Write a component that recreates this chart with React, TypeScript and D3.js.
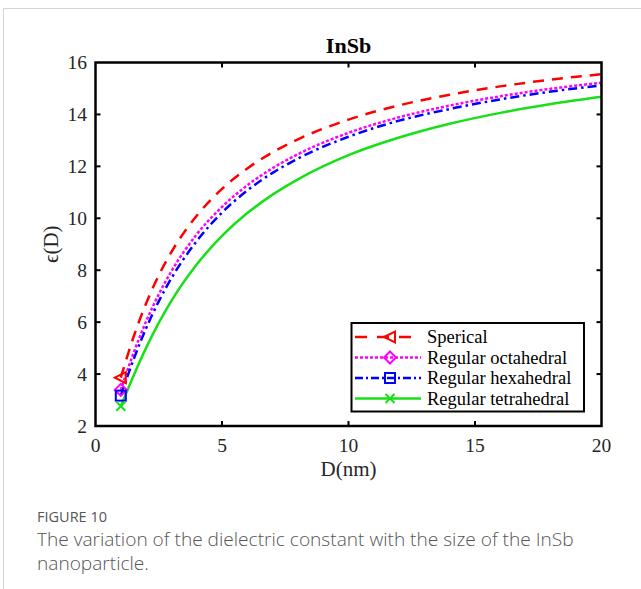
import React from "react";
import * as d3 from "d3";

const diameters = [1, 1.5, 2, 2.5, 3, 4, 5, 6, 7, 8, 10, 12, 14, 16, 18, 20];
const spherical = [3.86, 5.42, 6.72, 7.8, 8.7, 10.1, 11.13, 11.92, 12.54, 13.04, 13.8, 14.35, 14.76, 15.08, 15.34, 15.55];
const octahedral = [3.39, 4.8, 6.03, 7.07, 7.96, 9.38, 10.44, 11.27, 11.93, 12.47, 13.29, 13.89, 14.34, 14.7, 14.99, 15.22];
const hexahedral = [3.17, 4.55, 5.76, 6.8, 7.69, 9.12, 10.22, 11.07, 11.75, 12.3, 13.14, 13.76, 14.21, 14.58, 14.88, 15.12];
const tetrahedral = [2.76, 3.93, 5.01, 5.97, 6.82, 8.22, 9.32, 10.2, 10.91, 11.5, 12.43, 13.11, 13.64, 14.06, 14.4, 14.68];
const seriesNames = ["Sperical", "Regular octahedral", "Regular hexahedral", "Regular tetrahedral"];
const xTicks = [0, 5, 10, 15, 20];
const yTicks = [2, 4, 6, 8, 10, 12, 14, 16];

const FONT = "'Liberation Serif', 'Times New Roman', serif";
const SANS = "'Open Sans', 'Noto Sans', sans-serif";

export default function App() {
  const left = 95.5, right = 601.5, top = 62.5, bottom = 426;
  const x = d3.scaleLinear().domain([0, 20]).range([left, right]);
  const y = d3.scaleLinear().domain([2, 16]).range([bottom, top]);

  const series = [
    { name: seriesNames[0], values: spherical, color: "#ff0000", dash: "11,8", marker: "tri" },
    { name: seriesNames[1], values: octahedral, color: "#ff00ff", dash: "3,2", marker: "diamond" },
    { name: seriesNames[2], values: hexahedral, color: "#0000ff", dash: "9,4,2.5,4", marker: "square" },
    { name: seriesNames[3], values: tetrahedral, color: "#17e017", dash: null, marker: "x" },
  ];

  const line = d3
    .line<number>()
    .x((_, i) => x(diameters[i]))
    .y((v) => y(v))
    .curve(d3.curveMonotoneX);

  const marker = (kind: string, cx: number, cy: number, color: string) => {
    const common = { fill: "none", stroke: color, strokeWidth: 2 };
    if (kind === "tri")
      return <path d={`M${cx - 6},${cy} L${cx + 5},${cy - 5.5} L${cx + 5},${cy + 5.5} Z`} {...common} />;
    if (kind === "diamond")
      return <path d={`M${cx},${cy - 6} L${cx + 6},${cy} L${cx},${cy + 6} L${cx - 6},${cy} Z`} {...common} />;
    if (kind === "square") return <rect x={cx - 5} y={cy - 5} width={10} height={10} {...common} />;
    return <path d={`M${cx - 4.5},${cy - 4.5} L${cx + 4.5},${cy + 4.5} M${cx - 4.5},${cy + 4.5} L${cx + 4.5},${cy - 4.5}`} {...common} />;
  };

  const legX = 351.5, legY = 323, legW = 232.5, legH = 88.5;
  const rowY = [337, 357.5, 378, 398.5];
  const legDash = ["12,10", "3,2", "8,3,2,3", null];

  return (
    <svg width={641} height={589} style={{ position: "absolute", left: 0, top: 0, background: "#fff" }}>
      <rect x={0} y={0} width={641} height={589} fill="#fff" />
      <line x1={3.5} y1={8.5} x2={641} y2={8.5} stroke="#d4d4d4" strokeWidth={1} />
      <line x1={3.5} y1={8.5} x2={3.5} y2={589} stroke="#d4d4d4" strokeWidth={1} />

      <defs>
        <clipPath id="plotclip">
          <rect x={left} y={top} width={right - left} height={bottom - top} />
        </clipPath>
      </defs>

      <g clipPath="url(#plotclip)">
        {series.map((s) => (
          <path
            key={s.name}
            d={line(s.values) || ""}
            fill="none"
            stroke={s.color}
            strokeWidth={2.5}
            strokeDasharray={s.dash || undefined}
          />
        ))}
      </g>
      {series.map((s) => (
        <g key={s.name + "m"}>{marker(s.marker, x(diameters[0]), y(s.values[0]), s.color)}</g>
      ))}

      {/* axes box */}
      <rect x={left} y={top} width={right - left} height={bottom - top} fill="none" stroke="#000" strokeWidth={2.5} />
      {xTicks.slice(1, -1).map((t) => (
        <g key={"xt" + t}>
          <line x1={x(t)} x2={x(t)} y1={bottom} y2={bottom - 5} stroke="#000" strokeWidth={2} />
          <line x1={x(t)} x2={x(t)} y1={top} y2={top + 5} stroke="#000" strokeWidth={2} />
        </g>
      ))}
      {yTicks.slice(1, -1).map((t) => (
        <g key={"yt" + t}>
          <line x1={left} x2={left + 5} y1={y(t)} y2={y(t)} stroke="#000" strokeWidth={2} />
          <line x1={right} x2={right - 5} y1={y(t)} y2={y(t)} stroke="#000" strokeWidth={2} />
        </g>
      ))}
      {xTicks.map((t) => (
        <text key={"xl" + t} x={x(t)} y={452} textAnchor="middle" fontFamily={FONT} fontSize={19.5} fill="#262626">
          {t}
        </text>
      ))}
      {yTicks.map((t) => (
        <text key={"yl" + t} x={87} y={y(t) + 6.5} textAnchor="end" fontFamily={FONT} fontSize={19.5} fill="#262626">
          {t}
        </text>
      ))}

      <text x={(left + right) / 2} y={53} textAnchor="middle" fontFamily={FONT} fontSize={22} fontWeight="bold" fill="#000">
        InSb
      </text>
      <text x={(left + right) / 2} y={476} textAnchor="middle" fontFamily={FONT} fontSize={21} fill="#262626">
        D(nm)
      </text>
      <text
        transform={`translate(58,${(top + bottom) / 2}) rotate(-90)`}
        textAnchor="middle"
        fontFamily={FONT}
        fontSize={21}
        fill="#262626"
      >
        ϵ(D)
      </text>

      {/* legend */}
      <rect x={legX} y={legY} width={legW} height={legH} fill="#fff" stroke="#000" strokeWidth={2} />
      {series.map((s, i) => (
        <g key={s.name + "leg"}>
          <line
            x1={355}
            x2={421}
            y1={rowY[i]}
            y2={rowY[i]}
            stroke={s.color}
            strokeWidth={2.5}
            strokeDasharray={legDash[i] || undefined}
          />
          {marker(s.marker, 390, rowY[i], s.color)}
          <text x={427} y={rowY[i] + 6} fontFamily={FONT} fontSize={18.5} fill="#000">
            {s.name}
          </text>
        </g>
      ))}

      {/* caption */}
      <text x={37} y={522} fontFamily={SANS} fontSize={14.5} fill="#555">
        FIGURE 10
      </text>
      <text x={37} y={546} fontFamily={SANS} fontSize={19.1} fontWeight={300} fill="#555">
        The variation of the dielectric constant with the size of the InSb
      </text>
      <text x={37} y={570} fontFamily={SANS} fontSize={19.1} fontWeight={300} fill="#555">
        nanoparticle.
      </text>
    </svg>
  );
}
